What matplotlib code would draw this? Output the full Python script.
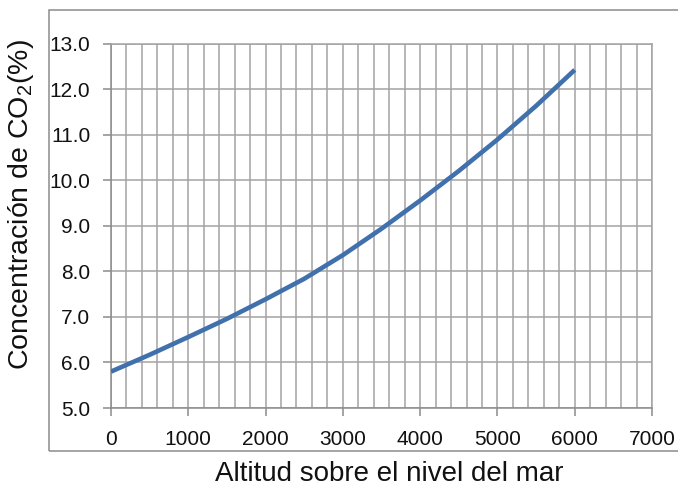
import numpy as np
import matplotlib
matplotlib.use('Agg')
import matplotlib.pyplot as plt
from matplotlib.patches import Rectangle
from matplotlib.ticker import MultipleLocator

# data
altitud = [0, 500, 1000, 1500, 2000, 2500, 3000, 3500, 4000, 4500, 5000, 5500, 6000]
co2 = [5.80, 6.17, 6.56, 6.96, 7.39, 7.84, 8.36, 8.94, 9.56, 10.21, 10.90, 11.64, 12.43]

x_ticks = [0, 1000, 2000, 3000, 4000, 5000, 6000, 7000]
y_ticks = [5.0, 6.0, 7.0, 8.0, 9.0, 10.0, 11.0, 12.0, 13.0]

plt.rcParams['font.family'] = ['Liberation Sans Narrow', 'Liberation Sans', 'DejaVu Sans']
plt.rcParams['mathtext.fontset'] = 'custom'
plt.rcParams['mathtext.rm'] = 'Liberation Sans'

grid_c = '#a3a3a3'

fig = plt.figure(figsize=(6.78, 4.86), dpi=100)
ax = fig.add_axes([111/678, 1 - 408/486, 541/678, 364/486])

ax.plot(altitud, co2, color='#4171ac', lw=3.3, solid_capstyle='butt', zorder=3)

ax.set_xlim(0, 7000)
ax.set_ylim(5.0, 13.0)
ax.set_xticks(x_ticks)
ax.set_yticks(y_ticks)
ax.set_yticklabels([f'{v:.1f}' for v in y_ticks])
ax.xaxis.set_minor_locator(MultipleLocator(200))

ax.grid(True, which='both', axis='x', color=grid_c, lw=1.1)
ax.grid(True, which='major', axis='y', color=grid_c, lw=1.1)
ax.set_axisbelow(True)

ax.tick_params(axis='both', which='major', direction='out', length=6, width=1.1,
               color='#8c8c8c', labelsize=15, labelcolor='#111111')
ax.tick_params(axis='x', pad=10)
ax.tick_params(axis='y', pad=9)
ax.tick_params(axis='x', which='minor', length=0)

for s in ax.spines.values():
    s.set_color(grid_c)
    s.set_linewidth(1.1)
ax.spines['left'].set_color('#8c8c8c')
ax.spines['bottom'].set_color('#8c8c8c')

# outer chart frame
fig.patches.append(Rectangle((49/678, 1 - 451/486), 1.0, 441/486, transform=fig.transFigure,
                             fill=False, edgecolor='#8c8c8c', lw=1.1))

fig.text(389/678, 1 - 474/486, 'Altitud sobre el nivel del mar', ha='center', va='center',
         fontsize=20, family='Liberation Sans', color='#111111')
fig.text(21/678, 1 - 205/486, r'Concentración de CO$_\mathregular{2}$(%)', ha='center', va='center',
         rotation=90, fontsize=20.5, family='Liberation Sans', color='#111111')

fig.savefig('out.png', dpi=100)
